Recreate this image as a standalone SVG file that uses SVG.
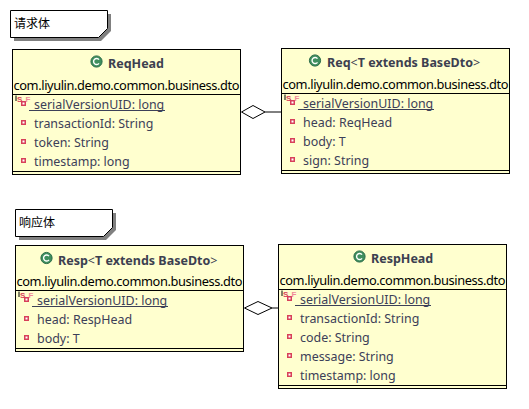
<svg xmlns="http://www.w3.org/2000/svg" width="529" height="409" viewBox="0 0 529 409">
<style>
text{font-family:"Noto Sans","Liberation Sans",sans-serif;font-size:12.450px}
.box{fill:#ffffcf;stroke:#000;stroke-width:1}
.ln{stroke:#000;stroke-width:1;fill:none}
.ul{stroke:#3c4058;stroke-width:1;fill:none}
.pk{fill:#000;font-size:12.800px}
.m{fill:#3c4058}
.t{fill:#3c4050;font-weight:700;font-size:12.500px}
.a{fill:#3c4050;font-weight:400}
.note{fill:#fff;stroke:#000;stroke-width:1}
.sh{fill:#808080}
.cn{font-family:"Noto Sans CJK SC",sans-serif;font-size:12px;fill:#000}
.dia{fill:#fff;stroke:#000;stroke-width:1}
.c{fill:#3f8f5f;stroke:#2a6a48;stroke-width:1}
.g{fill:none;stroke:#fff;stroke-width:1.4}
.s{font-family:"Liberation Sans",sans-serif;font-size:8px;fill:#d8405a;font-weight:700}
</style>
<defs>
<g id="priv"><rect x="-2.500" y="-2.500" width="5" height="5" fill="#d8405a"/><rect x="-1" y="-1" width="2" height="2" fill="#fff"/></g>
<g id="cls"><circle r="5.600" class="c"/><path d="M2.500-1.800A3 3 0 1 0 2.500 1.800" class="g"/></g>
<g id="stat"><use href="#priv"/><text x="-6.500" y="-2" class="s">S</text><text x="2" y="-2" class="s" style="fill:#f08a9a">F</text><path d="M-7.500-8V-2.500" stroke="#000" stroke-width="1"/></g>
</defs>
<g id="connectors">
<path class="ln" d="M265 112H281"/>
<path class="dia" d="M241.500 112L253 105.500L265 112L253 118.500Z"/>
<path class="ln" d="M272 308H278"/>
<path class="dia" d="M244.500 308L258 301.500L272 308L258 314.500Z"/>
</g>
<g id="note-req">
<path class="sh" d="M14 14H111V31L101 41H14Z"/>
<path class="note" d="M10.500 10.500H107.500V28.500L98.500 37.500H10.500Z"/>
<text x="14" y="28" class="cn">请求体</text>
</g>
<g id="note-resp">
<path class="sh" d="M19 213H116V230L106 240H19Z"/>
<path class="note" d="M15.500 209.500H112.500V227.500L103.500 236.500H15.500Z"/>
<text x="19" y="227" class="cn">响应体</text>
</g>
<g id="ReqHead">
<rect class="box" x="12.500" y="49.500" width="228" height="125"/>
<path class="ln" d="M12.500 94.500H240.500M12.500 171.500H240.500"/>
<use href="#cls" x="96.500" y="61.500"/>
<text x="108" y="68" class="t">ReqHead</text>
<text x="13.500" y="90" class="pk" textLength="226">com.liyulin.demo.common.business.dto</text>
<use href="#stat" x="23.500" y="103.500"/>
<text x="34" y="108.500" class="m">serialVersionUID: long</text>
<path class="ul" d="M29 110.500H165"/>
<use href="#priv" x="23.500" y="122.500"/><text x="34" y="127.500" class="m">transactionId: String</text>
<use href="#priv" x="23.500" y="141.500"/><text x="34" y="146.500" class="m">token: String</text>
<use href="#priv" x="23.500" y="160.500"/><text x="34" y="165.500" class="m">timestamp: long</text>
</g>
<g id="Req">
<rect class="box" x="281.500" y="48.500" width="228" height="125"/>
<path class="ln" d="M281.500 93.500H509.500M281.500 170.500H509.500"/>
<use href="#cls" x="315" y="60.500"/>
<text x="327" y="67" class="t">Req<tspan class="a">&lt;</tspan>T extends BaseDto<tspan class="a">&gt;</tspan></text>
<text x="282.500" y="89" class="pk" textLength="226">com.liyulin.demo.common.business.dto</text>
<use href="#stat" x="292.500" y="102.500"/>
<text x="303" y="107.500" class="m">serialVersionUID: long</text>
<path class="ul" d="M298 109.500H434"/>
<use href="#priv" x="292.500" y="121.500"/><text x="303" y="126.500" class="m">head: ReqHead</text>
<use href="#priv" x="292.500" y="140.500"/><text x="303" y="145.500" class="m">body: T</text>
<use href="#priv" x="292.500" y="159.500"/><text x="303" y="164.500" class="m">sign: String</text>
</g>
<g id="Resp">
<rect class="box" x="15.500" y="245.500" width="228" height="106"/>
<path class="ln" d="M15.500 290.500H243.500M15.500 348.500H243.500"/>
<use href="#cls" x="46.500" y="258"/>
<text x="58" y="264.500" class="t">Resp<tspan class="a">&lt;</tspan>T extends BaseDto<tspan class="a">&gt;</tspan></text>
<text x="16.500" y="286" class="pk" textLength="226">com.liyulin.demo.common.business.dto</text>
<use href="#stat" x="26.500" y="299.500"/>
<text x="37" y="304.500" class="m">serialVersionUID: long</text>
<path class="ul" d="M32 306.500H168"/>
<use href="#priv" x="26.500" y="318.500"/><text x="37" y="323.500" class="m">head: RespHead</text>
<use href="#priv" x="26.500" y="337.500"/><text x="37" y="342.500" class="m">body: T</text>
</g>
<g id="RespHead">
<rect class="box" x="278.500" y="244.500" width="228" height="144"/>
<path class="ln" d="M278.500 289.500H506.500M278.500 385.500H506.500"/>
<use href="#cls" x="359.500" y="256.500"/>
<text x="371" y="263" class="t">RespHead</text>
<text x="279.500" y="285" class="pk" textLength="226">com.liyulin.demo.common.business.dto</text>
<use href="#stat" x="289.500" y="298.500"/>
<text x="300" y="303.500" class="m">serialVersionUID: long</text>
<path class="ul" d="M295 305.500H431"/>
<use href="#priv" x="289.500" y="317.500"/><text x="300" y="322.500" class="m">transactionId: String</text>
<use href="#priv" x="289.500" y="336.500"/><text x="300" y="341.500" class="m">code: String</text>
<use href="#priv" x="289.500" y="355.500"/><text x="300" y="360.500" class="m">message: String</text>
<use href="#priv" x="289.500" y="374.500"/><text x="300" y="379.500" class="m">timestamp: long</text>
</g>
</svg>
